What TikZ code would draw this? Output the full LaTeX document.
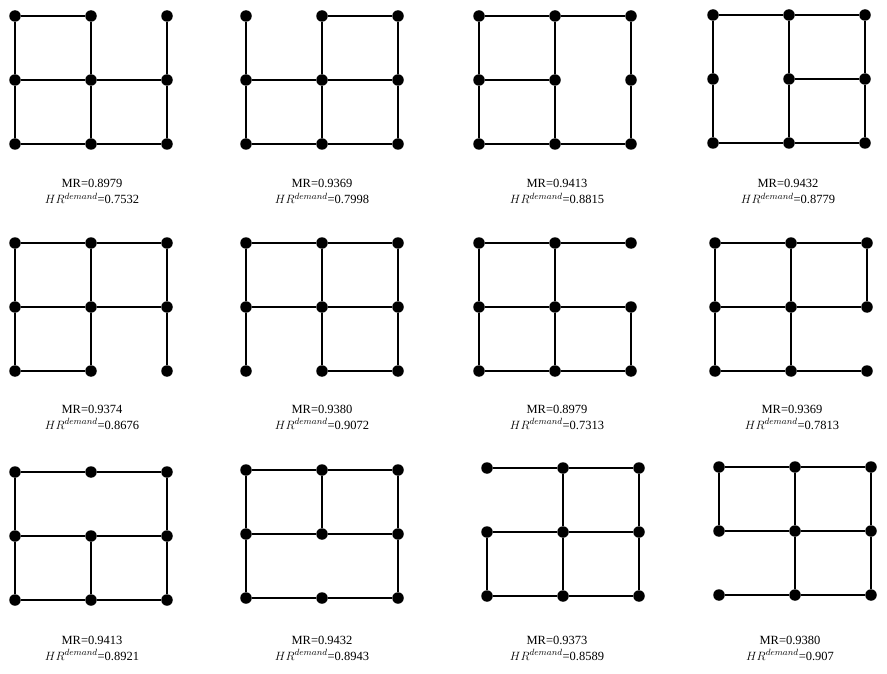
\documentclass[tikz,border=0pt]{standalone}
\usepackage{fontspec}
\setmainfont{Liberation Serif}
\usetikzlibrary{positioning}

\tikzset{
  dot/.style={circle, fill=black, inner sep=0pt, minimum size=11.5pt},
  edge/.style={line width=1.6pt},
  lbl/.style={anchor=base, inner sep=0pt, font=\fontsize{12.5}{15}\selectfont}
}

\begin{document}
\begin{tikzpicture}[x=1pt, y=-1pt]
\useasboundingbox (0,0) rectangle (887,674);
% panel name / left x / top y / removed edge / MR / HR / label x / label baseline
\foreach \p/\px/\py/\miss/\mr/\hr/\lx/\ly in {
    a/15/16/2/0.8979/0.7532/92/188,
    b/246/16/1/0.9369/0.7998/322/188,
    c/479/16/4/0.9413/0.8815/557/188,
    d/713/15/3/0.9432/0.8779/788/188,
    e/15/243/6/0.9374/0.8676/92/413,
    f/246/243/5/0.9380/0.9072/322/413,
    g/479/243/11/0.8979/0.7313/557/413,
    h/715/243/12/0.9369/0.7813/792/413,
    i/15/472/9/0.9413/0.8921/92/644,
    j/246/470/10/0.9432/0.8943/322/644,
    k/487/468/7/0.9373/0.8589/557/644,
    l/719/467/8/0.9380/0.907/790/644}
{
  \foreach \r in {1,2,3}
    \foreach \c in {1,2,3}
      \node[dot] (\p-\r\c) at ({\px+(\c-1)*76},{\py+(\r-1)*64}) {};
  \foreach \a/\b [count=\n] in {11/12,12/13,21/22,22/23,31/32,32/33,
                                11/21,21/31,12/22,22/32,13/23,23/33}
    {\ifnum\n=\miss\else\draw[edge] (\p-\a) -- (\p-\b);\fi}
  \node[lbl] (\p-mr) at (\lx,\ly) {MR=\mr};
  \node[lbl] (\p-hr) at (\lx,\ly+16) {$HR^{demand}$=\hr};
}
\end{tikzpicture}
\end{document}
